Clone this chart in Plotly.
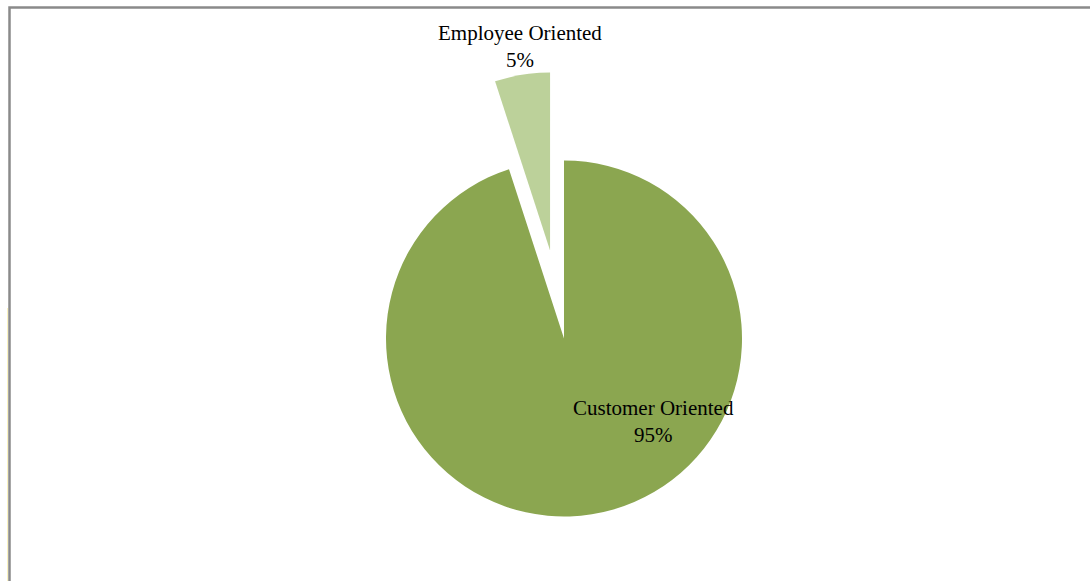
import math
import plotly.graph_objects as go

# Data
labels = ["Customer Oriented", "Employee Oriented"]
values = [95, 5]
colors = ["#8BA650", "#BCD19A"]
pulls = [0.0, 0.5]

W, H = 1090, 581
CX, CY, R = 564.0, 338.5, 178.0  # pixel centre / radius of the pie

total = sum(values)
pcts = [round(v / total * 100) for v in values]


def domain_for(cx, cy, r):
    return dict(
        x=[(cx - r) / W, (cx + r) / W],
        y=[1 - (cy + r) / H, 1 - (cy - r) / H],
    )


fig = go.Figure()

# One trace per slice so an exploded slice keeps full radius
start = 0.0
for i, (lab, val) in enumerate(zip(labels, values)):
    span = val / total * 360
    mid = start + span / 2  # clockwise angle from 12 o'clock
    off = pulls[i] * R
    cx = CX + off * math.sin(math.radians(mid))
    cy = CY - off * math.cos(math.radians(mid))
    cols = ["rgba(0,0,0,0)"] * len(values)
    cols[i] = colors[i]
    fig.add_trace(go.Pie(
        labels=labels, values=values, sort=False, direction="clockwise",
        rotation=0, marker=dict(colors=cols, line=dict(width=0)),
        textinfo="none", hoverinfo="label+percent", showlegend=False,
        domain=domain_for(cx, cy, R),
    ))
    start += span

font = dict(family="Liberation Serif, Times New Roman, serif", size=21, color="#000000")
label_pos = [(653, 421), (520, 47)]
for lab, p, (x, y) in zip(labels, pcts, label_pos):
    fig.add_annotation(
        x=x / W, y=1 - y / H, xref="paper", yref="paper",
        text=f"{lab}<br>{p}%", showarrow=False, font=font,
        xanchor="center", yanchor="middle", align="center",
    )

# chart frame
fig.add_shape(type="rect", xref="paper", yref="paper",
              x0=9.5 / W, x1=1.05, y0=-0.05, y1=1 - 7.5 / H,
              line=dict(color="#8a8a8a", width=2.5))
fig.add_shape(type="line", xref="paper", yref="paper",
              x0=7.5 / W, x1=7.5 / W, y0=0, y1=1 - 308 / H,
              line=dict(color="#fbf3c0", width=1))

fig.update_layout(
    width=W, height=H,
    margin=dict(l=0, r=0, t=0, b=0),
    paper_bgcolor="#ffffff", plot_bgcolor="#ffffff",
)

fig.write_html(
    "out.html",
    config={"displayModeBar": False},
    post_script="document.body.style.margin='0';document.body.style.overflow='hidden';",
)
